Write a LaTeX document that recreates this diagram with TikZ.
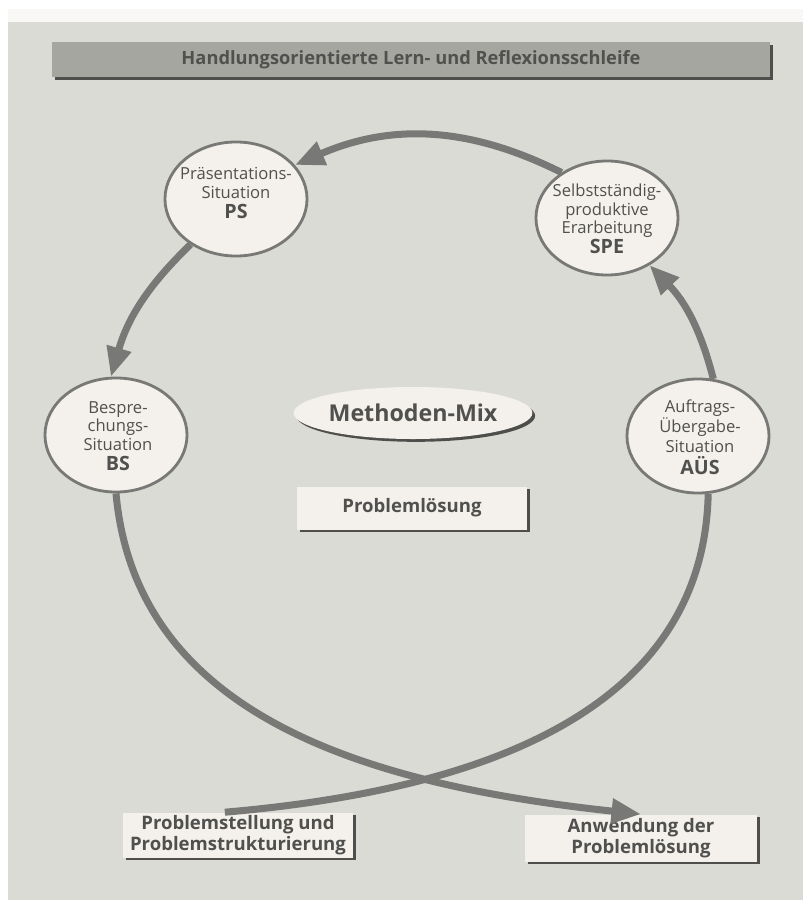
\documentclass[tikz,border=0pt]{standalone}
\usepackage{fontspec}
\setmainfont{Open Sans}
\usepackage{tikz}
\usetikzlibrary
  {
    arrows.meta,      % big triangle heads
    shapes.geometric, % ellipse nodes
    shadows,          % dark edge under the cards
    calc,
  }

\definecolor{paper}{RGB}{219,219,213}
\definecolor{bar}{RGB}{166,166,161}
\definecolor{card}{RGB}{244,241,236}
\definecolor{ink}{RGB}{80,80,78}
\definecolor{rim}{RGB}{120,120,118}
\definecolor{edge}{RGB}{78,78,76}

\newcommand\kurz[1]{{\bfseries\fontsize{14}{16}\selectfont #1}}

\tikzset{
  station/.style={ellipse, draw=rim, line width=2pt, fill=card,
    minimum width=3.55cm, minimum height=2.85cm, inner sep=0pt},
  station text/.style={align=center, text=ink, inner sep=0pt,
    font=\fontsize{11.8}{13.2}\selectfont},
  card/.style={rectangle, fill=card, text=ink, align=center, inner sep=0pt,
    font=\bfseries\fontsize{13.2}{14.8}\selectfont,
    drop shadow={shadow xshift=2pt, shadow yshift=-2pt, fill=edge, opacity=1}},
  loop/.style={draw=rim, line width=5pt},
  tip/.style={-{Triangle[length=21pt,width=17pt]}},
}

\begin{document}
\begin{tikzpicture}[x=0.025cm, y=-0.025cm]
    \useasboundingbox (0,0) rectangle (803,900);
    \fill [white] (0,0) rectangle (803,900);
    \fill [card!50!white] (8,9) rectangle (803,22);
    \fill [paper] (8,22) rectangle (803,900);

    \node [card, fill=bar, minimum width=17.95cm, minimum height=0.875cm,
      font=\bfseries\fontsize{13}{15}\selectfont] (title) at (411,59.5)
      {Handlungsorientierte Lern- und Reflexionsschleife};

    % the four stations of the loop
    \node [station] (ps) at (236,199) {};
    \node [station] (spe) at (607,218) {};
    \node [station] (bs) at (116,435) {};
    \node [station] (aus) at (698,436) {};

    \node [station text] (ps-t) at (236,193) {Präsentations-\\Situation\\[1pt]\kurz{PS}};
    \node [station text] (spe-t) at (607,219) {Selbstständig-\\produktive\\Erarbeitung\\[1pt]\kurz{SPE}};
    \node [station text] (bs-t) at (118,436) {Bespre-\\chungs-\\Situation\\[1pt]\kurz{BS}};
    \node [station text] (aus-t) at (700,437) {Auftrags-\\Übergabe-\\[1pt]Situation\\[2.5pt]\kurz{AÜS}};

    \node [card, ellipse, minimum width=5.8cm, minimum height=1.3cm,
      font=\bfseries\fontsize{16.5}{19}\selectfont] (mix) at (413,413) {Methoden-Mix};
    \node [card, minimum width=5.75cm, minimum height=1.075cm] (loesung) at (412,508) {Problemlösung};

    \node [card, minimum width=5.75cm, minimum height=1.125cm] (stell) at (238,835)
      {Problemstellung und\\Problemstrukturierung};
    \node [card, minimum width=5.8cm, minimum height=1.175cm] (anw) at (641,838)
      {Anwendung der\\Problemlösung};

    \draw [loop, tip] (spe.135) to [bend right=25] (ps.30);
    \draw [loop, tip] (ps.225) to [bend right=15] (bs.95);
    \draw [loop, tip] (aus.75) to [bend right=15] (spe.312);

    % the two ends of the loop cross below
    \draw [loop] (aus.280) .. controls +(-5,230) and +(230,-20) .. (stell.120);
    \draw [loop, tip] (bs.270) .. controls +(20,220) and +(-280,-30) .. (anw.north);
\end{tikzpicture}
\end{document}
